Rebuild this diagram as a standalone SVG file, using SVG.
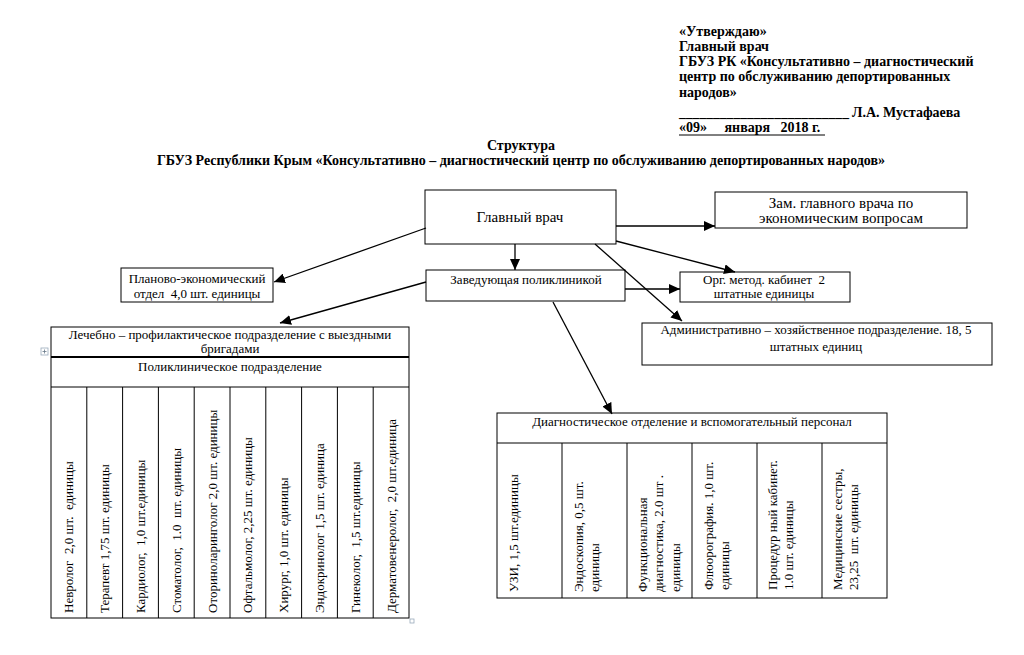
<svg xmlns="http://www.w3.org/2000/svg" width="1024" height="655" viewBox="0 0 1024 655">
<defs>
<style>
.t{font-family:"Liberation Serif","Times New Roman",serif;font-size:13px;fill:#000;white-space:pre}
.c{text-anchor:middle}
.b{font-weight:bold;font-size:14px}
.g{font-size:15px}
.box{fill:#fff;stroke:#000;stroke-width:1}
.tl{fill:none;stroke:#000;stroke-width:1}
.conn line{stroke:#000;stroke-width:1.3;marker-end:url(#ah)}
</style>
<marker id="ah" markerUnits="userSpaceOnUse" markerWidth="12" markerHeight="10" refX="11" refY="5" orient="auto">
<path d="M0,0 L11,5 L0,10 z" fill="#000"/>
</marker>
</defs>
<rect width="1024" height="655" fill="#fff"/>

<g id="approval">
<text class="t b" x="679" y="36">«Утверждаю»</text>
<text class="t b" x="679" y="51">Главный врач</text>
<text class="t b" x="679" y="66">ГБУЗ РК «Консультативно – диагностический</text>
<text class="t b" x="679" y="81">центр по обслуживанию депортированных</text>
<text class="t b" x="679" y="97">народов»</text>
<text class="t b" x="679" y="117" style="font-size:13.6px">_________________________</text>
<text class="t b" x="852" y="117">Л.А. Мустафаева</text>
<text class="t b" x="679" y="132" xml:space="preserve">«09»     января   2018 г.</text>
<line x1="679" y1="135" x2="825" y2="135" stroke="#000" stroke-width="1"/>
</g>

<g id="title">
<text class="t b c" x="521" y="150">Структура</text>
<text class="t b c" x="521" y="165">ГБУЗ Республики Крым «Консультативно – диагностический центр по обслуживанию депортированных народов»</text>
</g>

<g id="chief">
<rect class="box" x="425" y="190" width="191" height="54"/>
<text class="t g c" x="520" y="222">Главный врач</text>
</g>

<g id="deputy">
<rect class="box" x="715" y="192" width="252" height="36"/>
<text class="t g c" x="841" y="208">Зам. главного врача по</text>
<text class="t g c" x="841" y="223">экономическим вопросам</text>
</g>

<g id="planning">
<rect class="box" x="121" y="268" width="152" height="34"/>
<text class="t c" x="197" y="283">Планово-экономический</text>
<text class="t c" x="197" y="298" xml:space="preserve">отдел  4,0 шт. единицы</text>
</g>

<g id="polyclinic-head">
<rect class="box" x="426" y="270" width="199" height="31"/>
<text class="t c" x="526" y="284">Заведующая поликлиникой</text>
</g>

<g id="org-method">
<rect class="box" x="680" y="272" width="170" height="30"/>
<text class="t c" x="764" y="284" xml:space="preserve">Орг. метод. кабинет  2</text>
<text class="t c" x="764" y="298">штатные единицы</text>
</g>

<g id="admin">
<rect class="box" x="642" y="323" width="350" height="42"/>
<text class="t c" x="816" y="334">Административно – хозяйственное подразделение. 18, 5</text>
<text class="t c" x="816" y="351">штатных единиц</text>
</g>

<g id="clinical-table">
<rect class="tl" x="51" y="327" width="358" height="291"/>
<line x1="51" y1="357" x2="409" y2="357" stroke="#000" stroke-width="2"/>
<line x1="51" y1="387" x2="409" y2="387" stroke="#000" stroke-width="1"/>
<g stroke="#000" stroke-width="1">
<line x1="86.8" y1="387" x2="86.8" y2="618"/>
<line x1="122.6" y1="387" x2="122.6" y2="618"/>
<line x1="158.4" y1="387" x2="158.4" y2="618"/>
<line x1="194.2" y1="387" x2="194.2" y2="618"/>
<line x1="230" y1="387" x2="230" y2="618"/>
<line x1="265.8" y1="387" x2="265.8" y2="618"/>
<line x1="301.6" y1="387" x2="301.6" y2="618"/>
<line x1="337.4" y1="387" x2="337.4" y2="618"/>
<line x1="373.2" y1="387" x2="373.2" y2="618"/>
</g>
<text class="t c" x="230" y="339">Лечебно – профилактическое подразделение с выездными</text>
<text class="t c" x="230" y="353">бригадами</text>
<text class="t c" x="230" y="371">Поликлиническое подразделение</text>
<text class="t" transform="translate(73.4,613) rotate(-90)" xml:space="preserve">Невролог  2,0 шт.  единицы</text>
<text class="t" transform="translate(109.2,613) rotate(-90)">Терапевт 1,75 шт. единицы</text>
<text class="t" transform="translate(145,613) rotate(-90)" xml:space="preserve">Кардиолог,  1,0 шт.единицы</text>
<text class="t" transform="translate(180.8,613) rotate(-90)" xml:space="preserve">Стоматолог,  1.0  шт. единицы</text>
<text class="t" transform="translate(216.6,613) rotate(-90)">Оториноларинголог 2,0 шт. единицы</text>
<text class="t" transform="translate(252.4,613) rotate(-90)">Офтальмолог, 2,25 шт. единицы</text>
<text class="t" transform="translate(288.2,613) rotate(-90)">Хирург, 1,0 шт. единицы</text>
<text class="t" transform="translate(324,613) rotate(-90)">Эндокринолог 1,5 шт. единица</text>
<text class="t" transform="translate(359.8,613) rotate(-90)" xml:space="preserve">Гинеколог,  1,5 шт.единицы</text>
<text class="t" transform="translate(395.6,613) rotate(-90)" xml:space="preserve">Дерматовенеролог,  2,0 шт.единица</text>
<rect x="41" y="348" width="7" height="7" fill="none" stroke="#9ab" stroke-width="0.8"/>
<line x1="44.5" y1="349.5" x2="44.5" y2="353.5" stroke="#678" stroke-width="0.8"/>
<line x1="42.5" y1="351.5" x2="46.5" y2="351.5" stroke="#678" stroke-width="0.8"/>
<rect x="410" y="619" width="4" height="4" fill="none" stroke="#9ab" stroke-width="0.8"/>
</g>

<g id="diagnostic-table">
<rect class="tl" x="497" y="413" width="390" height="185"/>
<g stroke="#000" stroke-width="1">
<line x1="497" y1="443" x2="887" y2="443"/>
<line x1="562" y1="443" x2="562" y2="598"/>
<line x1="627" y1="443" x2="627" y2="598"/>
<line x1="692" y1="443" x2="692" y2="598"/>
<line x1="757" y1="443" x2="757" y2="598"/>
<line x1="822" y1="443" x2="822" y2="598"/>
</g>
<text class="t c" x="692" y="426">Диагностическое отделение и вспомогательный персонал</text>
<text class="t" transform="translate(517.5,592) rotate(-90)">УЗИ, 1,5 шт.единицы</text>
<text class="t" transform="translate(582.5,592) rotate(-90)">Эндоскопия, 0,5 шт.</text>
<text class="t" transform="translate(599,592) rotate(-90)">единицы</text>
<text class="t" transform="translate(646.5,592) rotate(-90)">Функциональная</text>
<text class="t" transform="translate(663,592) rotate(-90)">диагностика, 2.0 шт .</text>
<text class="t" transform="translate(679.5,592) rotate(-90)">единицы</text>
<text class="t" transform="translate(712.5,590) rotate(-90)">Флюорография. 1,0 шт.</text>
<text class="t" transform="translate(729,590) rotate(-90)">единицы</text>
<text class="t" transform="translate(776.5,590) rotate(-90)">Процедур ный кабинет.</text>
<text class="t" transform="translate(793,590) rotate(-90)">1.0 шт. единицы</text>
<text class="t" transform="translate(841.5,590) rotate(-90)">Медицинские сестры,</text>
<text class="t" transform="translate(858,590) rotate(-90)" xml:space="preserve">23,25  шт. единицы</text>
</g>

<g id="connectors" class="conn">
<line x1="616" y1="226" x2="715" y2="226"/>
<line x1="426" y1="228" x2="274" y2="282"/>
<line x1="515" y1="244" x2="515" y2="270"/>
<line x1="616" y1="241" x2="735" y2="272"/>
<line x1="595" y1="244" x2="682" y2="321"/>
<line x1="625" y1="289" x2="680" y2="289"/>
<line x1="426" y1="282" x2="280" y2="323"/>
<line x1="553" y1="302" x2="612" y2="414"/>
</g>
</svg>
